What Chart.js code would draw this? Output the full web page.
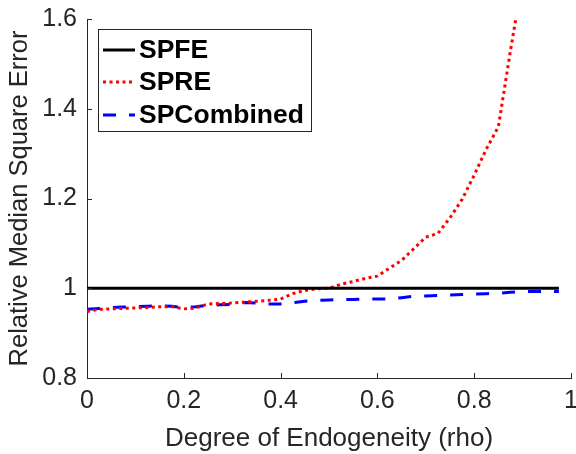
<!DOCTYPE html>
<html>
<head>
<meta charset="utf-8">
<script src="https://cdn.jsdelivr.net/npm/chart.js@4/dist/chart.umd.min.js"></script>
<style>
  html, body { margin: 0; padding: 0; background: #fff; }
  #wrap { width: 576px; height: 454px; }
</style>
</head>
<body>
<div id="wrap"><canvas id="c" width="576" height="454"></canvas></div>
<script>
const rho = [0, 0.025, 0.05, 0.075, 0.1, 0.125, 0.15, 0.175, 0.2, 0.225, 0.25, 0.275, 0.3, 0.325, 0.35, 0.375, 0.4, 0.425, 0.45, 0.475, 0.5, 0.525, 0.55, 0.575, 0.6, 0.625, 0.65, 0.675, 0.7, 0.725, 0.75, 0.775, 0.8, 0.825, 0.85, 0.875, 0.9, 0.925, 0.95, 0.975];
const spfe = [1, 1, 1, 1, 1, 1, 1, 1, 1, 1, 1, 1, 1, 1, 1, 1, 1, 1, 1, 1, 1, 1, 1, 1, 1, 1, 1, 1, 1, 1, 1, 1, 1, 1, 1, 1, 1, 1, 1, 1];
const spre = [0.948, 0.953, 0.954, 0.955, 0.956, 0.957, 0.959, 0.959, 0.954, 0.956, 0.965, 0.966, 0.967, 0.969, 0.971, 0.973, 0.976, 0.988, 0.995, 0.999, 1.000, 1.009, 1.015, 1.022, 1.027, 1.045, 1.062, 1.088, 1.114, 1.122, 1.157, 1.198, 1.252, 1.310, 1.360, 1.530, 1.690, 1.900, 2.200, 2.600];
const spcombined = [0.953, 0.955, 0.957, 0.958, 0.959, 0.960, 0.961, 0.960, 0.957, 0.959, 0.962, 0.963, 0.964, 0.968, 0.967, 0.965, 0.965, 0.968, 0.971, 0.973, 0.974, 0.975, 0.975, 0.976, 0.976, 0.976, 0.979, 0.982, 0.983, 0.984, 0.985, 0.986, 0.987, 0.988, 0.989, 0.991, 0.993, 0.993, 0.993, 0.993];

const xTickValues = [0, 0.2, 0.4, 0.6, 0.8, 1];
const xTickLabels = ['0', '0.2', '0.4', '0.6', '0.8', '1'];
const yTickValues = [0.8, 1.0, 1.2, 1.4, 1.6];
const yTickLabels = ['0.8', '1', '1.2', '1.4', '1.6'];

const seriesNames = ['SPFE', 'SPRE', 'SPCombined'];
const xTitle = 'Degree of Endogeneity (rho)';
const yTitle = 'Relative Median Square Error';

const FONT = "'Liberation Sans', Arial, Helvetica, sans-serif";
const TXT = '#262626';

function pts(ys) { return rho.map((x, i) => ({ x: x, y: ys[i] })); }

const innerTicks = {
  id: 'innerTicks',
  afterDatasetsDraw(chart) {
    const ctx = chart.ctx;
    const { x, y } = chart.scales;
    const ca = chart.chartArea;
    ctx.save();
    ctx.strokeStyle = TXT;
    ctx.lineWidth = 1;
    ctx.beginPath();
    xTickValues.forEach(v => {
      const px = Math.round(x.getPixelForValue(v)) + 0.5;
      ctx.moveTo(px, ca.bottom);
      ctx.lineTo(px, ca.bottom - 5);
    });
    yTickValues.forEach(v => {
      const py = Math.round(y.getPixelForValue(v)) + 0.5;
      ctx.moveTo(ca.left, py);
      ctx.lineTo(ca.left + 5, py);
    });
    ctx.stroke();
    ctx.restore();
  }
};

const boxLegend = {
  id: 'boxLegend',
  afterDraw(chart) {
    const ctx = chart.ctx;
    const bx = 98.5, by = 29.5, bw = 213, bh = 102;
    ctx.save();
    ctx.fillStyle = '#fff';
    ctx.fillRect(bx, by, bw, bh);
    ctx.strokeStyle = TXT;
    ctx.lineWidth = 1;
    ctx.strokeRect(bx, by, bw, bh);
    const rows = [50, 82, 115];
    chart.data.datasets.forEach((ds, i) => {
      const yy = rows[i];
      ctx.strokeStyle = ds.borderColor;
      ctx.lineWidth = ds.borderWidth;
      ctx.setLineDash(ds.borderDash || []);
      ctx.beginPath();
      ctx.moveTo(103, yy);
      ctx.lineTo(135, yy);
      ctx.stroke();
      ctx.setLineDash([]);
      ctx.fillStyle = '#000';
      ctx.font = 'bold 26.5px ' + FONT;
      ctx.textBaseline = 'middle';
      ctx.textAlign = 'left';
      ctx.fillText(ds.label, 139, yy + 1);
    });
    ctx.restore();
  }
};

new Chart(document.getElementById('c'), {
  type: 'line',
  data: {
    datasets: [
      { label: seriesNames[0], data: pts(spfe), borderColor: '#000000', borderWidth: 3, pointRadius: 0, fill: false, tension: 0 },
      { label: seriesNames[1], data: pts(spre), borderColor: '#ff0000', borderWidth: 3, borderDash: [3, 3.5], borderCapStyle: 'butt', pointRadius: 0, fill: false, tension: 0 },
      { label: seriesNames[2], data: pts(spcombined), borderColor: '#0000ff', borderWidth: 3, borderDash: [13, 13], pointRadius: 0, fill: false, tension: 0 }
    ]
  },
  options: {
    responsive: false,
    animation: false,
    events: [],
    layout: { padding: { top: 19, right: 5, left: 0, bottom: 0 } },
    plugins: { legend: { display: false }, tooltip: { enabled: false } },
    scales: {
      x: {
        type: 'linear', min: 0, max: 1,
        afterBuildTicks: s => { s.ticks = xTickValues.map(v => ({ value: v })); },
        afterFit: s => { s.height = 76; s.paddingLeft = 0; s.paddingRight = 0; },
        ticks: {
          callback: (v, i) => xTickLabels[i],
          font: { family: FONT, size: 25 }, color: TXT, padding: 8, maxRotation: 0, autoSkip: false
        },
        grid: { display: true, drawOnChartArea: false, drawTicks: false },
        border: { display: true, color: TXT, width: 1 },
        title: { display: true, text: xTitle, font: { family: FONT, size: 26 }, color: TXT, padding: { top: 0, bottom: 0 } }
      },
      y: {
        type: 'linear', min: 0.8, max: 1.6,
        afterBuildTicks: s => { s.ticks = yTickValues.map(v => ({ value: v })); },
        afterFit: s => { s.width = 87; s.paddingTop = 0; s.paddingBottom = 0; },
        ticks: {
          callback: (v, i) => yTickLabels[i],
          font: { family: FONT, size: 25 }, color: TXT, padding: 10, autoSkip: false
        },
        grid: { display: true, drawOnChartArea: false, drawTicks: false },
        border: { display: true, color: TXT, width: 1 },
        title: { display: true, text: yTitle, font: { family: FONT, size: 25.5 }, color: TXT, padding: { top: 5, bottom: 0 } }
      }
    }
  },
  plugins: [innerTicks, boxLegend]
});
</script>
</body>
</html>
